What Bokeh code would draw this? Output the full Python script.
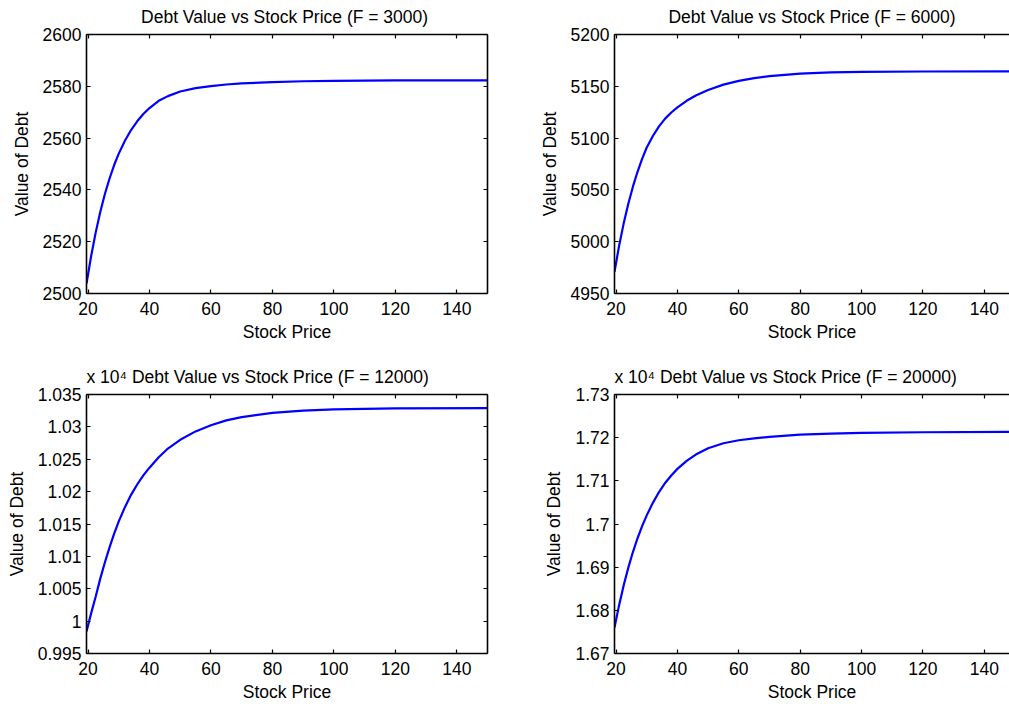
from bokeh.plotting import figure
from bokeh.layouts import column, row
from bokeh.models import (Range1d, LinearAxis, FixedTicker,
                          CustomJSTickFormatter)
from bokeh.embed import file_html
from bokeh.resources import INLINE

# Stock price grid shared by all four panels
stock_price = [19.5, 21, 22.5, 24, 25.5, 27, 28.5, 30, 32, 34, 36, 38, 40,
               43, 46, 50, 55, 60, 65, 70, 80, 90, 100, 120, 150]

# Debt value for each face value F
debt_f3000 = [2503.8, 2514.4, 2523.6, 2531.6, 2538.5, 2544.4, 2549.6, 2554.0,
              2559.0, 2563.1, 2566.5, 2569.3, 2571.6, 2574.4, 2576.2, 2578.0,
              2579.3, 2580.1, 2580.7, 2581.1, 2581.6, 2581.95, 2582.1, 2582.25,
              2582.3]
debt_f6000 = [4971.0, 4996.0, 5017.7, 5036.6, 5053.1, 5067.5, 5080.0, 5090.9,
              5102.0, 5111.3, 5118.8, 5124.7, 5129.6, 5136.0, 5141.1, 5146.5,
              5151.6, 5155.3, 5157.9, 5159.8, 5162.3, 5163.4, 5163.9, 5164.3,
              5164.4]
debt_f12000 = [9984, 10012, 10038, 10066, 10091, 10114, 10135, 10154,
               10176, 10195, 10211, 10225, 10237, 10253, 10266.5, 10280,
               10293, 10302.5, 10310, 10315, 10321.5, 10325, 10327, 10328.5,
               10329]
debt_f20000 = [16760, 16812, 16858, 16899, 16935, 16967, 16995, 17020,
               17049, 17074, 17095, 17112.5, 17127.7, 17146.3, 17160.9, 17175.6,
               17187, 17194, 17198.5, 17202, 17207, 17209.5, 17211, 17212.5,
               17213.3]

x_ticks = [20, 40, 60, 80, 100, 120, 140]
y_ticks_f3000 = [2500, 2520, 2540, 2560, 2580, 2600]
y_ticks_f6000 = [4950, 5000, 5050, 5100, 5150, 5200]
y_ticks_f12000 = [9950, 10000, 10050, 10100, 10150, 10200, 10250, 10300, 10350]
y_ticks_f20000 = [16700, 16800, 16900, 17000, 17100, 17200, 17300]

titles = ["Debt Value  vs Stock Price (F = 3000)",
          "Debt Value vs Stock Price (F = 6000)",
          "x 10\u2074  Debt Value  vs Stock Price (F = 12000)",
          "x 10\u2074  Debt Value  vs Stock Price (F = 20000)"]

FONT = "Liberation Sans"
FS = "17.5px"
X_START = 19.5


def style_axis(ax, ticks, show_labels=True):
    ax.ticker = FixedTicker(ticks=ticks)
    ax.axis_line_color = "black"
    ax.axis_line_width = 1.6
    ax.major_tick_line_color = "black"
    ax.major_tick_line_width = 1.2
    ax.major_tick_in = 4
    ax.major_tick_out = 0
    ax.minor_tick_line_color = None
    ax.major_label_text_font = FONT
    ax.major_label_text_color = "black"
    ax.axis_label_text_font = FONT
    ax.axis_label_text_font_size = FS
    ax.axis_label_text_font_style = "normal"
    ax.axis_label_text_color = "black"
    if show_labels:
        ax.major_label_text_font_size = FS
        ax.major_label_standoff = 5
    else:
        # mirrored box side: ticks only
        ax.formatter = CustomJSTickFormatter(code="return '';")
        ax.major_label_text_font_size = "0px"
        ax.major_label_standoff = 0


def panel(title, y, y_ticks, y_range, width, height, left, right, bottom,
          x_end, mirror_right, sci=False):
    p = figure(width=width, height=height,
               x_range=Range1d(X_START, x_end), y_range=Range1d(*y_range),
               output_backend="svg", toolbar_location=None,
               min_border_left=left, min_border_right=right,
               min_border_top=34, min_border_bottom=bottom,
               x_axis_label="Stock Price", y_axis_label="Value of Debt")
    p.outline_line_color = None
    p.grid.visible = False
    p.background_fill_color = "white"
    p.border_fill_color = "white"

    p.title.text = title
    p.title.align = "left" if sci else "center"
    p.title.vertical_align = "top"
    p.title.text_font = FONT
    p.title.text_font_size = FS
    p.title.text_font_style = "normal"
    p.title.text_color = "black"
    p.title.standoff = 11

    style_axis(p.xaxis[0], x_ticks)
    p.xaxis[0].major_label_standoff = 8
    p.xaxis[0].axis_label_standoff = 4
    style_axis(p.yaxis[0], y_ticks)
    p.yaxis[0].axis_label_standoff = 8
    if sci:
        p.yaxis[0].formatter = CustomJSTickFormatter(
            code="return String(parseFloat((tick / 1e4).toFixed(4)));")

    top = LinearAxis()
    style_axis(top, x_ticks, show_labels=False)
    p.add_layout(top, "above")
    if mirror_right:
        side = LinearAxis()
        style_axis(side, y_ticks, show_labels=False)
        p.add_layout(side, "right")

    p.line(stock_price, y, line_color="#0000ff", line_width=2.2)
    return p


p1 = panel(titles[0], debt_f3000, y_ticks_f3000, (2500, 2600),
           520, 360, 86, 33, 67, 150, True)
p2 = panel(titles[1], debt_f6000, y_ticks_f6000, (4950, 5200),
           489, 360, 94, 0, 67, 148.2, False)
p2.title.offset = 3
p3 = panel(titles[2], debt_f12000, y_ticks_f12000, (9950, 10350),
           520, 344, 86, 33, 51, 150, True, sci=True)
p4 = panel(titles[3], debt_f20000, y_ticks_f20000, (16700, 17300),
           489, 344, 94, 0, 51, 148.2, False, sci=True)

layout = column(row(p1, p2), row(p3, p4))

open("out.html", "w").write(file_html(layout, INLINE))
